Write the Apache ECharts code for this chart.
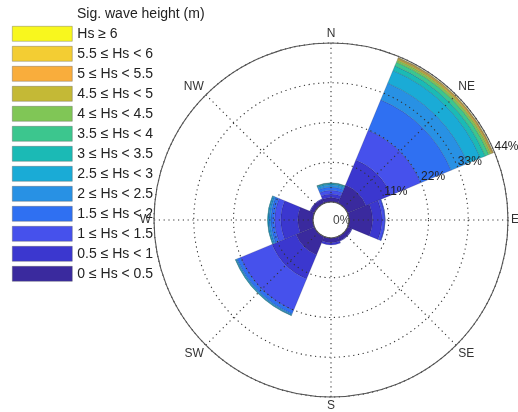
<!DOCTYPE html>
<html><head><meta charset="utf-8">
<script src="https://cdn.jsdelivr.net/npm/echarts@6/dist/echarts.min.js"></script>
<style>html,body{margin:0;padding:0;background:#fff}#c{width:518px;height:412px}</style>
</head><body><div id="c"></div>
<script>
// Directions (compass sectors)
const directions = ['N', 'NE', 'E', 'SE', 'S', 'SW', 'W', 'NW'];
// Radius tick labels (percent of time)
const radiusTicks = [0, 11, 22, 33, 44];
// Significant wave height classes (inner to outer)
const binLabels = ['0 ≤ Hs < 0.5', '0.5 ≤ Hs < 1', '1 ≤ Hs < 1.5', '1.5 ≤ Hs < 2', '2 ≤ Hs < 2.5',
  '2.5 ≤ Hs < 3', '3 ≤ Hs < 3.5', '3.5 ≤ Hs < 4', '4 ≤ Hs < 4.5', '4.5 ≤ Hs < 5',
  '5 ≤ Hs < 5.5', '5.5 ≤ Hs < 6', 'Hs ≥ 6'];
// Frequency (%) per direction, one array per class
const hs00_05 = [1.2, 5.5, 6.5, 1.2, 1.3, 5.5, 4.2, 1.2];
const hs05_10 = [1.0, 7.5, 2.6, 0.2, 0.6, 7.2, 4.7, 0.2];
const hs10_15 = [1.0, 8.9, 0.8, 0, 0, 9.4, 1.7, 0];
const hs15_20 = [0.9, 9.1, 0.1, 0, 0, 1.0, 1.0, 0];
const hs20_25 = [0.6, 5.0, 0, 0, 0, 0.3, 0.55, 0];
const hs25_30 = [0.3, 3.8, 0, 0, 0, 0.2, 0.3, 0];
const hs30_35 = [0.2, 1.4, 0, 0, 0, 0.1, 0.1, 0];
const hs35_40 = [0.1, 1.1, 0, 0, 0, 0, 0, 0];
const hs40_45 = [0, 0.6, 0, 0, 0, 0, 0, 0];
const hs45_50 = [0, 0.4, 0, 0, 0, 0, 0, 0];
const hs50_55 = [0, 0.2, 0, 0, 0, 0, 0, 0];
const hs55_60 = [0, 0.1, 0, 0, 0, 0, 0, 0];
const hs60_up = [0, 0.1, 0, 0, 0, 0, 0, 0];
const binValues = [hs00_05, hs05_10, hs10_15, hs15_20, hs20_25, hs25_30, hs30_35,
  hs35_40, hs40_45, hs45_50, hs50_55, hs55_60, hs60_up];
const binColors = ['#3a2a9e', '#3b37cf', '#4651ec', '#2f70f2', '#2891e4', '#1aabd6',
  '#1bbab5', '#3cc68e', '#80c656', '#c4b936', '#f9ad3c', '#f3cd33', '#f8f71e'];

const FONT = 'Liberation Sans, Arial, sans-serif';
const chart = echarts.init(document.getElementById('c'), null, {renderer: 'canvas'});
const series = binLabels.map((name, i) => ({
  name: name,
  type: 'bar',
  coordinateSystem: 'polar',
  polarIndex: 0,
  stack: 'rose',
  barCategoryGap: '0%',
  itemStyle: {color: binColors[i], borderColor: 'rgba(20,20,60,0.3)', borderWidth: 0.6},
  emphasis: {disabled: true},
  data: binValues[i].map(v => (v > 0 ? v : '-'))
}));

chart.setOption({
  animation: false,
  backgroundColor: '#fff',
  title: {
    text: 'Sig. wave height (m)', left: 77, top: 7, padding: 0,
    textStyle: {fontSize: 14, fontWeight: 'normal', color: '#222', fontFamily: FONT}
  },
  legend: {
    orient: 'vertical', left: 12, top: 26, padding: 0,
    itemWidth: 60, itemHeight: 15, itemGap: 4.4,
    icon: 'rect', selectedMode: false,
    data: binLabels.slice().reverse(),
    itemStyle: {borderColor: 'rgba(90,90,90,0.6)', borderWidth: 0.6},
    textStyle: {fontSize: 14, color: '#222', fontFamily: FONT}
  },
  polar: [
    {center: [331, 220], radius: [18, 177]},
    {center: [331, 220], radius: [18, 177]}
  ],
  angleAxis: [
    {
      polarIndex: 0, type: 'category', data: directions, boundaryGap: false,
      startAngle: 90, clockwise: true, z: 10,
      axisLine: {show: true, lineStyle: {color: '#555', width: 1.1}},
      axisTick: {show: false},
      axisLabel: {margin: 3, color: '#333', fontSize: 12, fontFamily: FONT},
      splitLine: {show: true, lineStyle: {color: '#333', width: 1.1, type: [1.2, 3.6]}}
    },
    {
      polarIndex: 1, type: 'value', min: 0, max: 360, startAngle: 22.5, show: false
    }
  ],
  radiusAxis: [
    {polarIndex: 0, type: 'value', min: 0, max: 44, interval: 11, show: false},
    {
      polarIndex: 1, type: 'value', min: 0, max: 44, interval: 11, z: 10,
      axisLine: {show: false}, axisTick: {show: false},
      axisLabel: {
        showMinLabel: false, formatter: '{value}%', color: '#222', fontSize: 12,
        fontFamily: FONT, margin: 0, align: 'left', verticalAlign: 'bottom'
      },
      splitLine: {show: true, showMinLine: false, lineStyle: {color: '#333', width: 1.1, type: [1.2, 3.6]}}
    }
  ],
  graphic: [{
    type: 'text', left: 333, top: 215, z: 20,
    style: {text: radiusTicks[0] + '%', fontSize: 12, fill: '#444', fontFamily: FONT}
  }],
  series: series
});
</script></body></html>
